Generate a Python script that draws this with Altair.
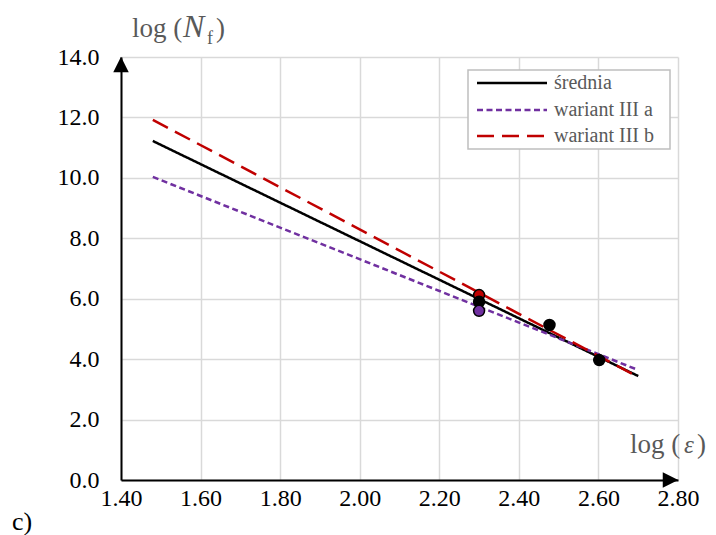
import altair as alt
import pandas as pd

# ---- data ----
series = ["średnia", "wariant III a", "wariant III b"]
colors = ["#000000", "#7030a0", "#c00000"]
dashes = [[1, 0], [6, 3.5], [17, 8]]

line_x = [1.48, 2.70]
line_y_srednia = [11.22, 3.44]
line_y_a = [10.03, 3.64]
line_y_b = [11.92, 3.41]

pt_x = [2.30, 2.30, 2.30, 2.477, 2.602]
pt_y = [6.12, 5.90, 5.60, 5.13, 3.97]
pt_series = ["wariant III b", "średnia", "wariant III a", "średnia", "średnia"]

x_ticks = [1.4, 1.6, 1.8, 2.0, 2.2, 2.4, 2.6, 2.8]
y_ticks = [0, 2, 4, 6, 8, 10, 12, 14]

X_DOM = [1.4, 2.8]
Y_DOM = [0, 14]

W, H = 557, 423
OX, OY = 121, 57  # plot origin in page pixels
FONT = "Liberation Serif"
GRAY = "#595959"

lines_df = pd.DataFrame({
    "x": line_x * 3,
    "y": line_y_srednia + line_y_a + line_y_b,
    "s": [series[0]] * 2 + [series[1]] * 2 + [series[2]] * 2,
})
pts_df = pd.DataFrame({"x": pt_x, "y": pt_y, "s": pt_series, "o": list(range(len(pt_x)))})

xs = alt.Scale(domain=X_DOM, nice=False, zero=False)
ys = alt.Scale(domain=Y_DOM, nice=False)

x_axis = alt.Axis(values=x_ticks, format=".2f", title=None, labelFlush=False, labelPadding=6,
                  labelFont=FONT, labelFontSize=24)
y_axis = alt.Axis(values=y_ticks, format=".1f", title=None, labelPadding=22,
                  labelFont=FONT, labelFontSize=24)

lines = alt.Chart(lines_df).mark_line(strokeWidth=2.5).encode(
    x=alt.X("x:Q", scale=xs, axis=x_axis),
    y=alt.Y("y:Q", scale=ys, axis=y_axis),
    color=alt.Color("s:N", scale=alt.Scale(domain=series, range=colors), legend=None),
    strokeDash=alt.StrokeDash("s:N", scale=alt.Scale(domain=series, range=dashes), legend=None),
)

points = alt.Chart(pts_df).mark_circle(size=120, stroke="black", strokeWidth=1.5, opacity=1).encode(
    x=alt.X("x:Q", scale=xs, axis=x_axis),
    y=alt.Y("y:Q", scale=ys, axis=y_axis),
    fill=alt.Fill("s:N", scale=alt.Scale(domain=series, range=colors), legend=None),
    order="o:Q",
)

arrow_df = pd.DataFrame({"x": [X_DOM[0], X_DOM[1]], "y": [Y_DOM[1], Y_DOM[0]], "k": ["up", "right"]})
arrow_up = alt.Chart(arrow_df[arrow_df.k == "up"]).mark_point(
    shape="M0,-1L1,1L-1,1Z", size=240, filled=True, color="black", opacity=1, yOffset=7.5
).encode(x=alt.X("x:Q", scale=xs, axis=x_axis), y=alt.Y("y:Q", scale=ys, axis=y_axis))
arrow_right = alt.Chart(arrow_df[arrow_df.k == "right"]).mark_point(
    shape="M1,0L-1,-1L-1,1Z", size=240, filled=True, color="black", opacity=1, xOffset=-7.5
).encode(x=alt.X("x:Q", scale=xs, axis=x_axis), y=alt.Y("y:Q", scale=ys, axis=y_axis))

one = pd.DataFrame({"a": [0]})


def txt(text, px, py, size=27, italic=False, color=GRAY):
    return alt.Chart(one).mark_text(
        text=text, font=FONT, fontSize=size, fontStyle="italic" if italic else "normal",
        color=color, align="left", baseline="alphabetic"
    ).encode(x=alt.value(px - OX), y=alt.value(py - OY))


titles = [
    txt("log (", 132, 37),
    txt("N", 183, 37, size=32, italic=True),
    txt("f", 207, 44, size=18),
    txt(")", 216, 37),
    txt("log (", 630, 453),
    txt("ε", 684, 453, size=25, italic=True),
    txt(")", 697, 453),
    txt("c)", 12, 530, size=26, color="black"),
]

# ---- legend (drawn as a small box with sample lines) ----
leg_rows_y = [83, 110, 136]
leg_box = alt.Chart(one).mark_rect(fill="white", stroke="#bfbfbf", strokeWidth=1.5).encode(
    x=alt.value(468 - OX), x2=alt.value(670 - OX), y=alt.value(70 - OY), y2=alt.value(149 - OY)
)
leg_items = [leg_box]
for name, col, dash, ry in zip(series, colors, dashes, leg_rows_y):
    leg_items.append(
        alt.Chart(one).mark_rule(color=col, strokeWidth=2.5, strokeDash=dash).encode(
            x=alt.value(477 - OX), x2=alt.value(547 - OX), y=alt.value(ry - OY)
        )
    )
    leg_items.append(txt(name, 554, ry + 6, size=20))

chart = alt.layer(lines, points, arrow_up, arrow_right, *titles, *leg_items).properties(
    width=W, height=H,
    autosize=alt.AutoSizeParams(type="none"),
    padding={"left": OX, "top": OY, "right": 716 - OX - W, "bottom": 535 - OY - H},
).configure_view(stroke=None).configure_axis(
    labelFont=FONT, labelFontSize=24, labelColor="black",
    domainColor="black", domainWidth=2, ticks=False,
    grid=True, gridColor="#d9d9d9", gridWidth=1.5,
)

chart.save("out.html", embed_options={"renderer": "svg", "actions": False})
